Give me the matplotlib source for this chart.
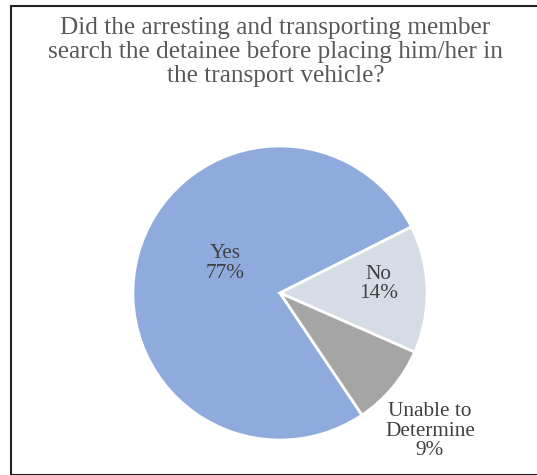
import matplotlib.pyplot as plt
from matplotlib.patches import Rectangle

# Data
labels = ["Yes", "No", "Unable to\nDetermine"]
values = [77, 14, 9]
colors = ["#8FAADC", "#D6DCE5", "#A5A5A5"]
title = ("Did the arresting and transporting member\n"
         "search the detainee before placing him/her in\n"
         "the transport vehicle?")

# label spots inside the pie axes (radius units)
label_pos = [(-0.37, 0.20), (0.67, 0.06), (1.02, -0.94)]

W, H = 537, 475
fig = plt.figure(figsize=(W / 100, H / 100), dpi=100)

# outer frame (right side runs off the image)
fig.patches.append(Rectangle((11 / W, 0.0), 1.0, (H - 5.5) / H,
                             transform=fig.transFigure, fill=False,
                             edgecolor="#222222", linewidth=1.5))

fig.text(0.513, 1 - 17 / H, title, ha="center", va="top",
         fontsize=18.2, family="Liberation Serif", color="#595959",
         linespacing=1.08)

cx, cy, r = 280, 293, 150
ax = fig.add_axes([(cx - r) / W, (H - cy - r) / H, 2 * r / W, 2 * r / H])
start = 360 * (1 - values[1] / 100 - values[2] / 100) + 26.7
ax.pie(values, colors=colors, startangle=start, counterclock=False,
       wedgeprops=dict(edgecolor="white", linewidth=2))
ax.set_xlim(-1.02, 1.02)
ax.set_ylim(-1.02, 1.02)
ax.axis("off")

for lab, v, (x, y) in zip(labels, values, label_pos):
    ax.text(x, y, f"{lab}\n{v}%", ha="center", va="center",
            fontsize=15.3, family="Liberation Serif", color="#404040",
            linespacing=1.02, clip_on=False)

fig.savefig("out.png", dpi=100)
